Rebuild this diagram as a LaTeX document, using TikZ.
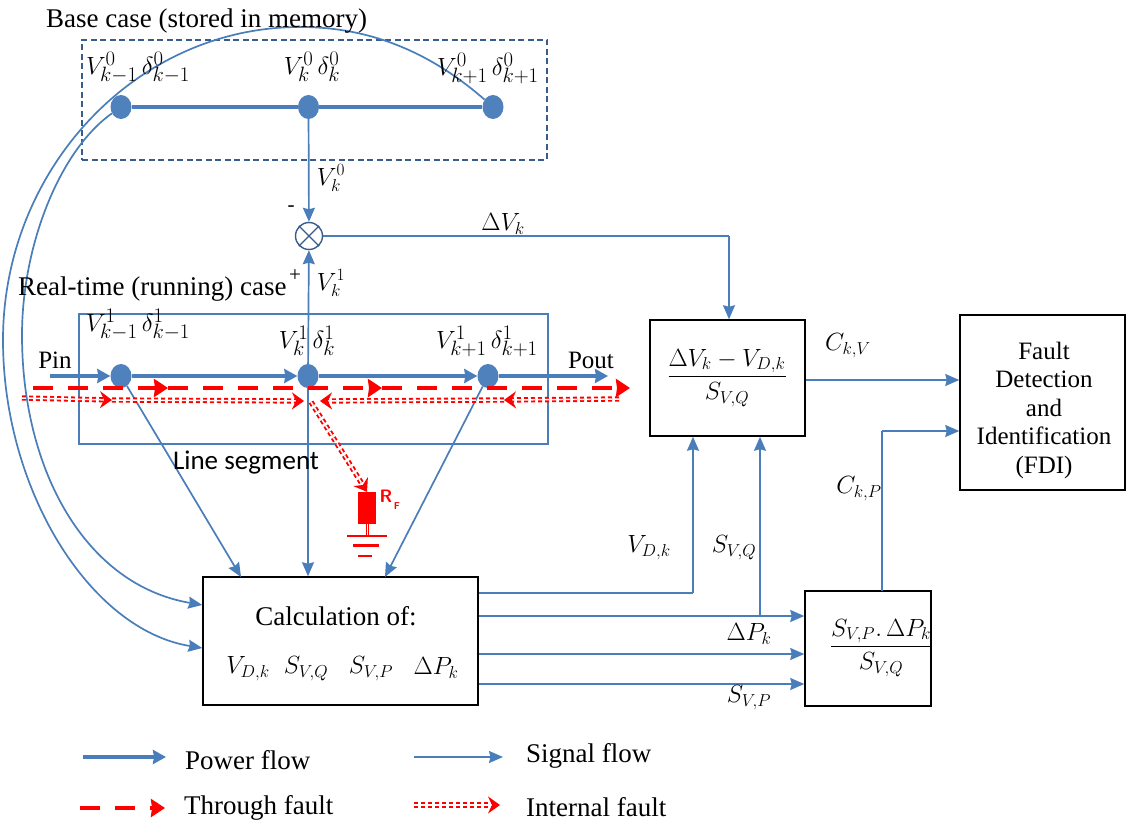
\documentclass[tikz,border=0pt]{standalone}
\usepackage{fontspec}
\setmainfont{Liberation Serif}
\newfontfamily\calfont{Carlito}
\usetikzlibrary{arrows.meta,shapes.geometric}
\definecolor{blu}{HTML}{4A7EBB}
\definecolor{dotb}{HTML}{4F81BD}
\definecolor{dkb}{HTML}{385D8A}
\tikzset{
  x=1pt,y=-1pt,
  sig/.style={draw=blu,line width=1.7pt,-{Stealth[length=14pt,width=12pt,inset=1.5pt]}},
  sigline/.style={draw=blu,line width=1.7pt},
  pow/.style={draw=blu,line width=3.4pt,-{Stealth[length=13pt,width=14pt,inset=1pt]}},
  busline/.style={draw=blu,line width=4pt},
  thr/.style={draw=red,line width=4.5pt,dash pattern=on 20pt off 15pt,-{Stealth[length=14pt,width=18pt,inset=1pt]}},
  inter/.style={draw=red,line width=1.9pt,double=white,double distance=1.5pt,dash pattern=on 4pt off 3pt},
  intertip/.style={-{Stealth[length=12pt,width=17pt,inset=4pt,fill=red]}},
  busdot/.style={shape=ellipse,fill=dotb,inner sep=0pt,minimum width=21pt,minimum height=24pt},
  wbox/.style={draw=black,line width=1.5pt,fill=white,inner sep=0pt},
  txt/.style={font=\fontsize{27}{30}\selectfont,inner sep=0pt},
  cal/.style={font=\calfont\fontsize{27}{30}\selectfont,inner sep=0pt},
  ml/.style={font=\fontsize{26}{30}\selectfont,inner sep=0pt},
  mb/.style={font=\fontsize{28}{30}\selectfont,inner sep=0pt},
  gnd/.style={draw=red,line width=2.5pt},
}
\begin{document}
\begin{tikzpicture}
\useasboundingbox (0,0) rectangle (1126,826);
\fill[white] (0,0) rectangle (1126,826);
% coordinates
\coordinate (pinS) at (50,376);
\coordinate (poutE) at (608,376);
\coordinate (thS) at (33,388);
\coordinate (thA) at (168,388);
\coordinate (thB) at (382,388);
\coordinate (thE) at (630,388);
\coordinate (inS) at (22,398);
\coordinate (inA) at (112,400);
\coordinate (inB) at (304,401);
\coordinate (inC) at (320,401);
\coordinate (inD) at (504,400);
\coordinate (inE) at (619,399);
\coordinate (inF) at (311,402);
% boxes
\node[draw=dkb,line width=1.2pt,dash pattern=on 6pt off 3.5pt,minimum width=465pt,minimum height=120pt,inner sep=0pt] (basebox) at (314.5,100) {};
\node[draw=blu,line width=1.6pt,minimum width=469pt,minimum height=130pt,inner sep=0pt] (rtbox) at (313.5,379) {};
\node[wbox,minimum width=275pt,minimum height=128pt] (calc) at (340.5,641) {};
\node[wbox,minimum width=155pt,minimum height=116pt] (frac1) at (727.5,378) {};
\node[wbox,minimum width=126pt,minimum height=115pt] (frac2) at (868,648.5) {};
\node[wbox,minimum width=165pt,minimum height=175pt,align=center] (fdi) at (1042.5,402.5) {};
% bus dots
\node[busdot] (b0a) at (121,107) {};
\node[busdot] (b0b) at (308.5,107) {};
\node[busdot] (b0c) at (493,107) {};
\node[busdot] (b1a) at (121,376) {};
\node[busdot] (b1b) at (308,376) {};
\node[busdot] (b1c) at (488,376) {};
% sum
\node[draw=dkb,line width=1.4pt,circle,fill=white,minimum size=27pt,inner sep=0pt] (sum) at (309,236) {};
\draw[dkb,line width=1.4pt] (sum.45)--(sum.225) (sum.135)--(sum.315);
% base bus
\draw[busline] (b0a)--(b0b);
\draw[busline] (b0b)--(b0c);
% arcs
\draw[sig] (b0c) .. controls (430,52) and (370,27) .. (300,27) .. controls (135,27) and (3,170) .. (3,340) .. controls (3,490) and (90,630) .. (calc.west |- 0,648);
\draw[sig] (b0a) .. controls (60,150) and (22,245) .. (22,335) .. controls (22,470) and (85,585) .. (calc.west |- 0,605);
% vertical signals
\draw[sig] (b0b) -- (sum);
\draw[sig] (b1b) -- (sum);
\draw[sigline] (sum) -- (729,236) coordinate (dvc);
\draw[sig] (dvc) -- (frac1.north -| dvc);
\draw[sig] (b1a) -- (241,577);
\draw[sig] (b1b) -- (b1b |- calc.north);
\draw[sig] (b1c) -- (385,577);
% power
\draw[pow] (pinS) -- (b1a);
\draw[pow] (b1a) -- (b1b);
\draw[pow] (b1b) -- (b1c);
\draw[pow] (b1c) -- (poutE);
% through fault
\draw[thr] (thS) -- (thA);
\draw[thr] (thA) -- (thB);
\draw[thr] (thB) -- (thE);
% internal
\draw[inter,intertip] (inS) -- (inA);
\draw[inter,intertip] (inA) -- (inB);
\draw[inter,intertip] (inE) -- (inD);
\draw[inter,intertip] (inD) -- (inC);
\node[fill=red,minimum width=18pt,minimum height=32pt,inner sep=0pt] (rf) at (367,508) {};
\draw[inter,intertip] (inF) -- (rf.north);
% ground
\coordinate (g1) at (367,536);
\draw[inter,dash pattern=on 20pt off 0pt,line width=1pt,double distance=1pt] (rf.south) -- (g1);
\draw[gnd] (347,536) -- (387,536);
\draw[gnd] (353,545.5) -- (379,545.5);
\draw[gnd] (358,556) -- (372,556);
\node[font=\sffamily\bfseries\fontsize{18}{20}\selectfont,text=red,inner sep=0pt] (rflab) at (386,496) {R};
\node[font=\sffamily\bfseries\fontsize{10}{12}\selectfont,text=red,inner sep=0pt] (rflab2) at (397,506) {F};
% right side
\draw[sigline] (calc.east |- 0,593) -- (693,593) coordinate (c1);
\draw[sig] (c1) -- (c1 |- frac1.south);
\draw[sig] (calc.east |- 0,616) -- (frac2.west |- 0,616);
\draw[sig] (calc.east |- 0,654) -- (frac2.west |- 0,654);
\draw[sig] (calc.east |- 0,684) -- (frac2.west |- 0,684);
\coordinate (c2) at (760,616);
\draw[sig] (c2) -- (c2 |- frac1.south);
\draw[sig] (frac1.east |- 0,380) -- (fdi.west |- 0,380);
\draw[sigline] (882,591) -- (882,431) coordinate (c3);
\draw[sig] (c3) -- (fdi.west |- c3);
% text
\node[txt,anchor=west] (t1) at (46,21) {Base case (stored in memory)};
\node[txt,anchor=west] (t2) at (18,289) {Real-time (running) case};
\node[inner sep=0pt,font=\fontsize{21}{22}\selectfont] (tplus) at (295,276) {+};
\node[inner sep=0pt,font=\fontsize{21}{22}\selectfont] (tminus) at (291,209) {-};
\node[mb] (m1) at (138,68) {$V_{k-1}^{0}\,\delta_{k-1}^{0}$};
\node[mb] (m2) at (312,67) {$V_{k}^{0}\,\delta_{k}^{0}$};
\node[mb] (m3) at (488,68) {$V_{k+1}^{0}\,\delta_{k+1}^{0}$};
\node[ml] (m4) at (331,178) {$V_{k}^{0}$};
\node[ml] (m5) at (331,283) {$V_{k}^{1}$};
\node[ml] (m6) at (503,224) {$\Delta V_{k}$};
\node[mb] (m7) at (138,325) {$V_{k-1}^{1}\,\delta_{k-1}^{1}$};
\node[mb] (m8) at (307,341) {$V_{k}^{1}\,\delta_{k}^{1}$};
\node[mb] (m9) at (487,341) {$V_{k+1}^{1}\,\delta_{k+1}^{1}$};
\node[inner sep=0pt,font=\fontsize{25}{30}\selectfont] (pin) at (55,360) {Pin};
\node[inner sep=0pt,font=\fontsize{25}{30}\selectfont] (pout) at (591,360) {Pout};
\node[cal] (seg) at (246,463) {Line segment};
\node[txt] (c4) at (336,616) {Calculation of:};
\node[ml] (m10) at (248,669) {$V_{D,k}$};
\node[ml] (m11) at (306,669) {$S_{V,Q}$};
\node[ml] (m12) at (371,669) {$S_{V,P}$};
\node[ml] (m13) at (436,668) {$\Delta P_{k}$};
\node[font=\fontsize{27}{30}\selectfont,inner sep=0pt] (m14) at (727,378) {$\displaystyle\frac{\Delta V_{k}-V_{D,k}}{S_{V,Q}}$};
\node[font=\fontsize{24}{30}\selectfont,inner sep=0pt] (m15) at (881,648) {$\displaystyle\frac{S_{V,P}.\,\Delta P_{k}}{S_{V,Q}}$};
\node[align=center,font=\fontsize{25}{28.5}\selectfont,inner sep=0pt] (fdit) at (1044,410) {Fault\\Detection\\and\\Identification\\(FDI)};
\node[ml] (m16) at (848,346) {$C_{k,V}$};
\node[ml] (m17) at (859,489) {$C_{k,P}$};
\node[ml] (m18) at (649,548) {$V_{D,k}$};
\node[ml] (m19) at (734,548) {$S_{V,Q}$};
\node[ml] (m20) at (749,634) {$\Delta P_{k}$};
\node[ml] (m21) at (749,698) {$S_{V,P}$};
% legend
\coordinate (l1a) at (83,757); \coordinate (l1b) at (166,757);
\coordinate (l2a) at (414,757); \coordinate (l2b) at (503,757);
\coordinate (l3a) at (80,808); \coordinate (l3b) at (165,808);
\coordinate (l4a) at (414,805); \coordinate (l4b) at (500,805);
\draw[pow] (l1a) -- (l1b);
\draw[sig] (l2a) -- (l2b);
\draw[thr] (l3a) -- (l3b);
\draw[inter,intertip] (l4a) -- (l4b);
\node[txt,anchor=west] (l1) at (185,760) {Power flow};
\node[txt,anchor=west] (l2) at (526,756) {Signal flow};
\node[txt,anchor=west] (l3) at (184,808) {Through fault};
\node[txt,anchor=west] (l4) at (526,807) {Internal fault};
\end{tikzpicture}
\end{document}
